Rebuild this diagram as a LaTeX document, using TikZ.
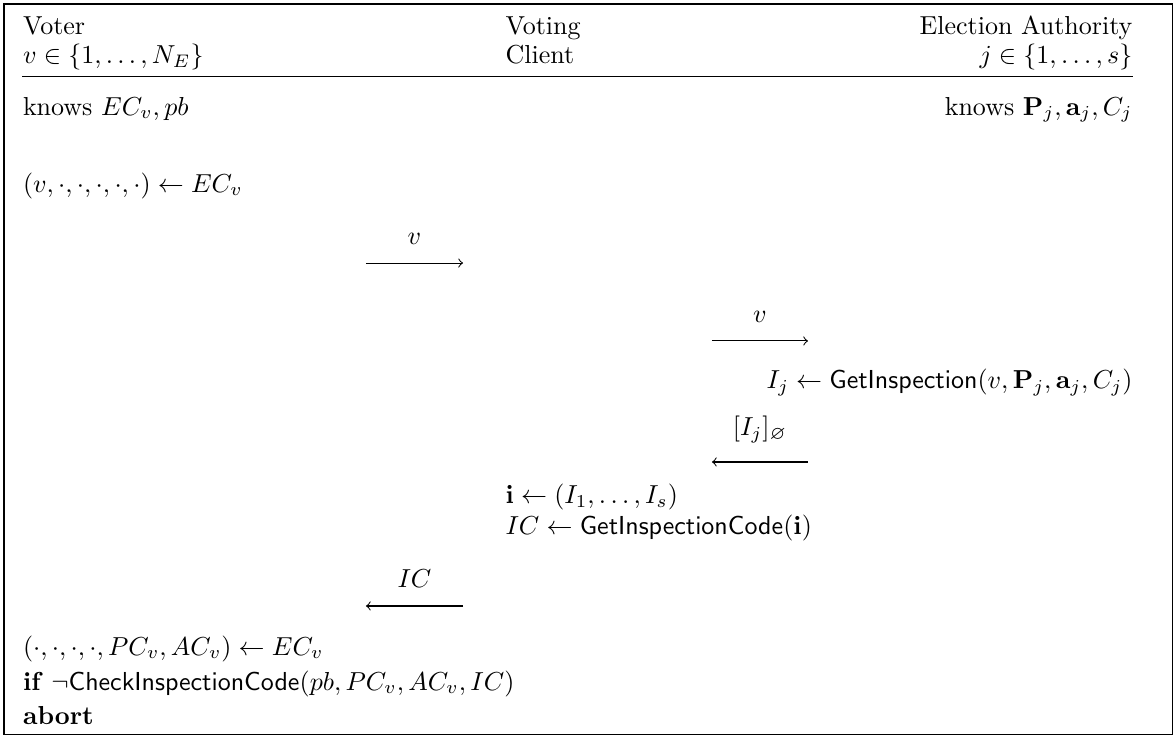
\documentclass[tikz,border=0pt]{standalone}
\usepackage{amssymb}
\usepackage{amsmath}
\usetikzlibrary{arrows,positioning}

\begin{document}
\begin{tikzpicture}[
		msg/.style={-to, line width=0.4pt},
		lft/.style={anchor=base west, inner sep=0pt},
		rgt/.style={anchor=base east, inner sep=0pt},
		lbl/.style={midway, above=7pt, inner sep=0pt}]
		\useasboundingbox (0,0) rectangle (15.9,-9.98);
		\draw[line width=0.4pt] (0.054,-0.054) rectangle (15.859,-9.937);
		% header
		\node[lft] (voter) at (0.304,-0.473) {Voter};
		\node[lft] (voterset) at (0.304,-0.865) {$v\in\{1,\dots,N_E\}$};
		\node[lft] (client) at (6.828,-0.473) {Voting};
		\node[lft] (client2) at (6.828,-0.865) {Client};
		\node[rgt] (auth) at (15.318,-0.473) {Election Authority};
		\node[rgt] (authset) at (15.318,-0.865) {$j\in\{1,\dots,s\}$};
		\draw[line width=0.4pt] (0.304,-1.028) -- (15.318,-1.028);
		% knowledge
		\node[lft] (vknows) at (0.304,-1.555) {knows $EC_v,pb$};
		\node[rgt] (aknows) at (15.318,-1.555) {knows $\mathbf{P}_j,\mathbf{a}_j,C_j$};
		\node[lft] (split) at (0.304,-2.596) {$(v,\cdot,\cdot,\cdot,\cdot,\cdot)\leftarrow EC_v$};
		% messages
		\coordinate (m1a) at (4.948,-3.556);
		\coordinate (m1b) at (6.260,-3.556);
		\draw[msg] (m1a) -- node[lbl] (m1) {$v$} (m1b);
		\coordinate (m2a) at (9.626,-4.610);
		\coordinate (m2b) at (10.924,-4.610);
		\draw[msg] (m2a) -- node[lbl] (m2) {$v$} (m2b);
		\node[rgt] (getinsp) at (15.318,-5.259) {$I_j\leftarrow\mathsf{GetInspection}(v,\mathbf{P}_j,\mathbf{a}_j,C_j)$};
		\coordinate (m3a) at (10.924,-6.246);
		\coordinate (m3b) at (9.626,-6.246);
		\draw[msg] (m3a) -- node[lbl] (m3) {$[I_j]_{\varnothing}$} (m3b);
		\node[lft] (collect) at (6.828,-6.814) {$\mathbf{i}\leftarrow(I_1,\dots,I_s)$};
		\node[lft] (code) at (6.828,-7.233) {$IC\leftarrow\mathsf{GetInspectionCode}(\mathbf{i})$};
		\coordinate (m4a) at (6.260,-8.193);
		\coordinate (m4b) at (4.948,-8.193);
		\draw[msg] (m4a) -- node[lbl] (m4) {$IC$} (m4b);
		% check
		\node[lft] (split2) at (0.304,-8.856) {$(\cdot,\cdot,\cdot,\cdot,PC_v,AC_v)\leftarrow EC_v$};
		\node[lft] (check) at (0.304,-9.329) {\textbf{if} $\neg\mathsf{CheckInspectionCode}(pb,PC_v,AC_v,IC)$};
		\node[lft] (abort) at (0.304,-9.802) {\textbf{abort}};
		\end{tikzpicture}
\end{document}
